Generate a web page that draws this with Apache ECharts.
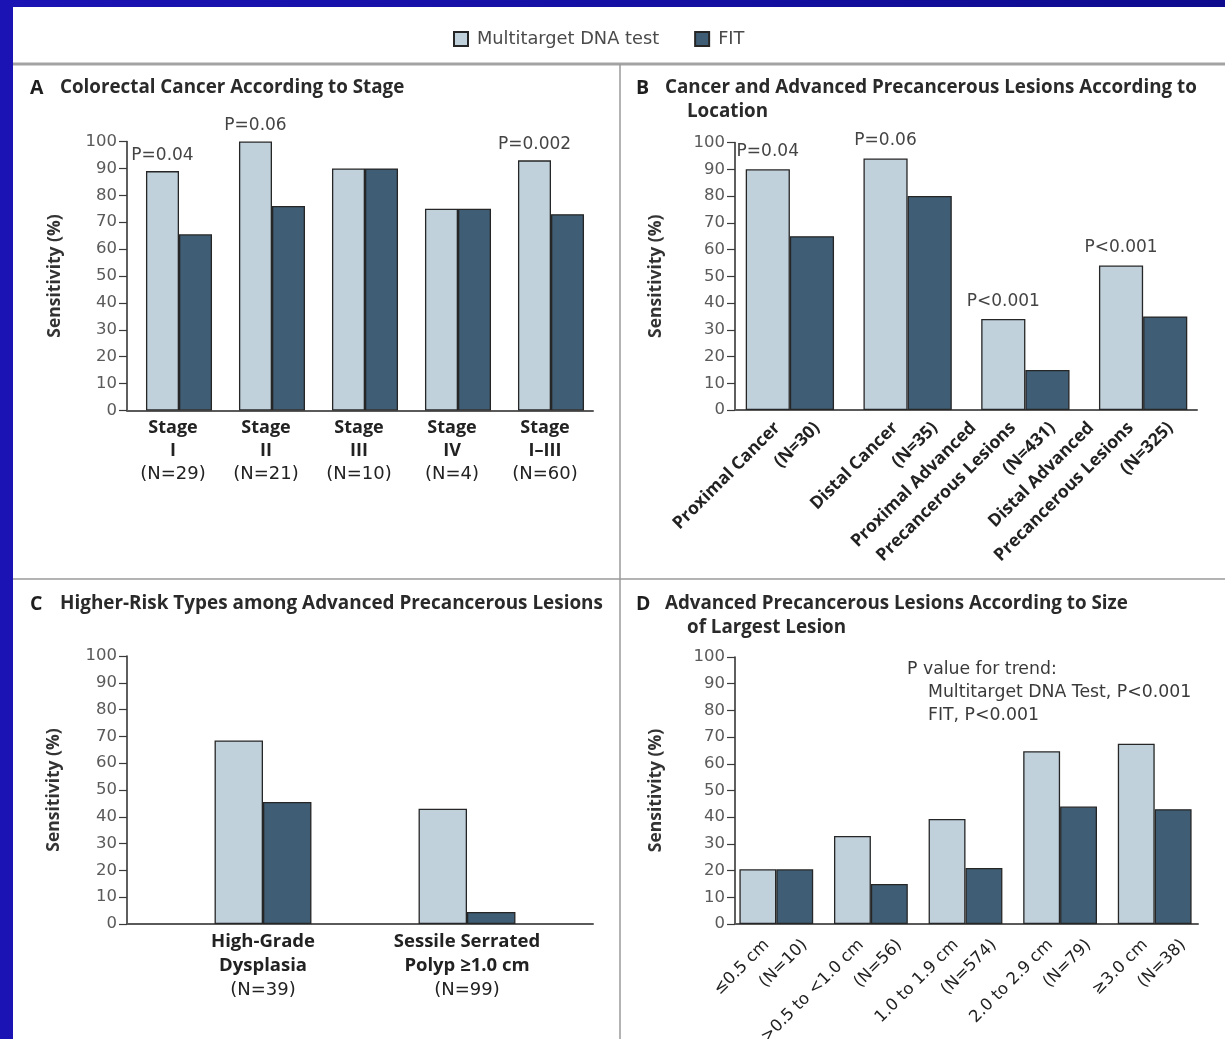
<!DOCTYPE html>
<html>
<head>
<meta charset="utf-8">
<title>Sensitivity of Multitarget DNA Test and FIT</title>
<script src="https://cdn.jsdelivr.net/npm/echarts@6/dist/echarts.min.js"></script>
<style>
  html, body { margin: 0; padding: 0; width: 1225px; height: 1039px; overflow: hidden; }
  body { background: linear-gradient(90deg, #1b13b4 0%, #1510a4 50%, #0e0b8e 100%); position: relative; }
  #sheet { position: absolute; left: 13px; top: 7px; right: 0; bottom: 0; background: #ffffff; }
  #chart { position: absolute; left: 0; top: 0; width: 1225px; height: 1039px; }
</style>
</head>
<body>
<div id="sheet"></div>
<div id="chart"></div>
<script>
// ---- data ----
const seriesNames = ['Multitarget DNA test', 'FIT'];

// A: colorectal cancer by stage
const stageCats = ['Stage\nI\n(N=29)', 'Stage\nII\n(N=21)', 'Stage\nIII\n(N=10)', 'Stage\nIV\n(N=4)', 'Stage\nI\u2013III\n(N=60)'];
const stageDna = [89, 100, 90, 75, 93];
const stageFit = [65.5, 76, 90, 75, 73];
const stageP = ['P=0.04', 'P=0.06', '', '', 'P=0.002'];

// B: cancer and advanced precancerous lesions by location
const locationCats = ['Proximal Cancer\n(N=30)', 'Distal Cancer\n(N=35)', 'Proximal Advanced\nPrecancerous Lesions\n(N=431)', 'Distal Advanced\nPrecancerous Lesions\n(N=325)'];
const locationDna = [90, 94, 34, 54];
const locationFit = [65, 80, 15, 35];
const locationP = ['P=0.04', 'P=0.06', 'P<0.001', 'P<0.001'];

// C: higher-risk lesion types
const riskCats = ['High-Grade\nDysplasia\n(N=39)', 'Sessile Serrated\nPolyp \u22651.0 cm\n(N=99)'];
const riskDna = [68.5, 43];
const riskFit = [45.5, 4.5];

// D: by size of largest lesion
const sizeCats = ['\u22640.5 cm\n(N=10)', '>0.5 to <1.0 cm\n(N=56)', '1.0 to 1.9 cm\n(N=574)', '2.0 to 2.9 cm\n(N=79)', '\u22653.0 cm\n(N=38)'];
const sizeDna = [20.5, 33, 39.3, 64.7, 67.5];
const sizeFit = [20.5, 15, 21, 44, 43];

const trendNote = ['P value for trend:', 'Multitarget DNA Test, P<0.001', 'FIT, P<0.001'];

// ---- styling ----
const BOLD = '"Open Sans", "Noto Sans", sans-serif';
const REG = '"DejaVu Sans", "Open Sans", sans-serif';
const LIGHT = '#c1d1dc';
const DARK = '#3f5e75';
const EDGE = '#262626';

const grids = [];
const xAxes = [];
const yAxes = [];
const series = [];

function gridBox(box) {
  return { left: box.left, top: box.top, width: box.width, height: box.height, containLabel: false, outerBoundsMode: 'none' };
}

// Frame: y axis with ticks and name, plus the baseline
function addFrame(box, nameGap) {
  const idx = grids.length;
  grids.push(gridBox(box));
  xAxes.push({
    gridIndex: idx, type: 'value', min: 0, max: 1,
    axisLine: { show: true, lineStyle: { color: '#5a5a5a', width: 2 } },
    axisTick: { show: false }, axisLabel: { show: false }, splitLine: { show: false }
  });
  yAxes.push({
    gridIndex: idx, type: 'value', min: 0, max: 100, interval: 10,
    axisLine: { show: true, lineStyle: { color: '#2a2a2a', width: 1.5 } },
    axisTick: { show: true, inside: false, length: 8, lineStyle: { color: '#3a3a3a', width: 1.2 } },
    axisLabel: { show: true, margin: 10, fontSize: 16.5, color: '#5a5a5a', fontFamily: REG },
    splitLine: { show: false },
    name: 'Sensitivity (%)', nameLocation: 'middle', nameGap: nameGap, nameRotate: 90,
    nameTextStyle: { fontSize: 17.5, fontWeight: 'bold', color: '#333', fontFamily: BOLD }
  });
}

// Upright multi-line category labels: name lines bold, count line regular
function uprightLabel(lh, size, nudge) {
  const pad = [0, nudge, 0, 0];
  return {
    show: true, interval: 0, margin: 6,
    formatter: function (s) {
      const lines = s.split('\n');
      return lines.map(function (l, i) { return (i === lines.length - 1 ? '{n|' : '{b|') + l + '}'; }).join('\n');
    },
    rich: {
      b: { fontSize: size, fontWeight: 'bold', color: '#222', lineHeight: lh, fontFamily: BOLD, padding: pad },
      n: { fontSize: 18, fontWeight: 'normal', color: '#222', lineHeight: lh, fontFamily: REG, padding: pad }
    }
  };
}

// Slanted multi-line category labels: each line ends one line-height further along
function slantedLabel(lh, font, size, weight, margin) {
  const rich = {};
  for (let k = 0; k < 3; k++) {
    rich['s' + k] = { fontSize: size, fontWeight: weight, color: '#222', lineHeight: lh, fontFamily: font, padding: [0, k * lh, 0, 0] };
  }
  return {
    show: true, interval: 0, rotate: 45, margin: margin, align: 'right', verticalAlign: 'bottom',
    formatter: function (s) {
      const lines = s.split('\n');
      const n = lines.length;
      return lines.map(function (l, i) { return '{s' + (n - 1 - i) + '|' + l + '}'; }).join('\n');
    },
    rich: rich
  };
}

function addCategoryGrid(box, cats, label) {
  const idx = grids.length;
  grids.push(gridBox(box));
  xAxes.push({
    gridIndex: idx, type: 'category', data: cats, boundaryGap: true,
    axisLine: { show: false }, axisTick: { show: false },
    axisLabel: label || { show: false }, splitLine: { show: false }
  });
  yAxes.push({ gridIndex: idx, type: 'value', min: 0, max: 100, show: false });
  return idx;
}

function addBars(idx, dna, fit, pvals, gap, labelDist) {
  const dnaData = dna.map(function (v, i) {
    const p = pvals && pvals[i];
    return p ? { value: v, label: { show: true, formatter: p } } : { value: v };
  });
  series.push({
    name: seriesNames[0], type: 'bar', xAxisIndex: idx, yAxisIndex: idx,
    data: dnaData, barGap: '0%', barCategoryGap: gap,
    itemStyle: { color: LIGHT, borderColor: EDGE, borderWidth: 1.3 },
    label: { show: false, position: 'top', distance: labelDist, fontSize: 17, color: '#444', fontFamily: REG },
    emphasis: { disabled: true }, z: 3
  });
  series.push({
    name: seriesNames[1], type: 'bar', xAxisIndex: idx, yAxisIndex: idx,
    data: fit, barGap: '0%', barCategoryGap: gap,
    itemStyle: { color: DARK, borderColor: EDGE, borderWidth: 1.3 },
    emphasis: { disabled: true }, z: 3
  });
}

// Panel A
addFrame({ left: 127, top: 141.5, width: 466, height: 269 }, 63);
const gA = addCategoryGrid({ left: 132.5, top: 141.5, width: 465, height: 269 }, stageCats, uprightLabel(23, 18, 12));
addBars(gA, stageDna, stageFit, stageP, '29%', 7);

// Panel B
addFrame({ left: 735, top: 142.5, width: 462, height: 267.5 }, 70);
const gB = addCategoryGrid({ left: 731, top: 142.5, width: 471, height: 267.5 }, locationCats, null);
addBars(gB, locationDna, locationFit, locationP, '25%', 9);
addCategoryGrid({ left: 768, top: 142.5, width: 471, height: 267.5 }, locationCats, slantedLabel(28, BOLD, 17.5, 'bold', 25));

// Panel C
addFrame({ left: 127, top: 656, width: 466, height: 268 }, 64);
const gC = addCategoryGrid({ left: 161, top: 656, width: 408, height: 268 }, riskCats, uprightLabel(24, 18.5, 0));
addBars(gC, riskDna, riskFit, null, '52.5%', 7);

// Panel D
addFrame({ left: 735, top: 657, width: 463, height: 267 }, 70);
const gD = addCategoryGrid({ left: 729, top: 657, width: 473, height: 267 }, sizeCats, null);
addBars(gD, sizeDna, sizeFit, null, '22%', 7);
addCategoryGrid({ left: 767, top: 657, width: 473, height: 267 }, sizeCats, slantedLabel(27, REG, 16.5, 'normal', 28));

// Panel headings, separators and the trend note
function heading(letter, lx, tx, y, lines, size) {
  const els = [{ type: 'text', x: lx, y: y, style: { text: letter, fontSize: 19.5, fontWeight: 'bold', fill: '#1e1e1e', fontFamily: BOLD, verticalAlign: 'middle' } }];
  lines.forEach(function (t, i) {
    els.push({ type: 'text', x: i === 0 ? tx : tx + 22, y: y + i * 24, style: { text: t, fontSize: size, fontWeight: 'bold', fill: '#2a2a2a', fontFamily: BOLD, verticalAlign: 'middle' } });
  });
  return els;
}

const graphics = [
  { type: 'line', shape: { x1: 13, y1: 64, x2: 1225, y2: 64 }, style: { stroke: '#a3a3a3', lineWidth: 3 } },
  { type: 'line', shape: { x1: 620, y1: 64, x2: 620, y2: 1039 }, style: { stroke: '#9a9a9a', lineWidth: 1.5 } },
  { type: 'line', shape: { x1: 13, y1: 579, x2: 1225, y2: 579 }, style: { stroke: '#9a9a9a', lineWidth: 1.5 } }
]
  .concat(heading('A', 30, 60, 88, ['Colorectal Cancer According to Stage'], 18.8))
  .concat(heading('B', 636, 665, 88, ['Cancer and Advanced Precancerous Lesions According to', 'Location'], 18.8))
  .concat(heading('C', 30, 60, 604, ['Higher-Risk Types among Advanced Precancerous Lesions'], 18.9))
  .concat(heading('D', 636, 665, 604, ['Advanced Precancerous Lesions According to Size', 'of Largest Lesion'], 18.8));

trendNote.forEach(function (t, i) {
  graphics.push({ type: 'text', x: i === 0 ? 907 : 928, y: 670 + i * 23, style: { text: t, fontSize: 17.3, fill: '#3a3a3a', fontFamily: REG, verticalAlign: 'middle' } });
});

const chart = echarts.init(document.getElementById('chart'), null, { renderer: 'canvas' });
chart.setOption({
  animation: false,
  backgroundColor: 'transparent',
  textStyle: { fontFamily: REG },
  legend: {
    data: seriesNames, left: 453, top: 30, padding: 0, icon: 'rect', itemWidth: 14, itemHeight: 14, itemGap: 35,
    selectedMode: false,
    textStyle: { fontSize: 17.8, color: '#4a4a4a', fontFamily: REG, padding: [0, 0, 0, 4] }
  },
  grid: grids,
  xAxis: xAxes,
  yAxis: yAxes,
  series: series,
  graphic: graphics
});
</script>
</body>
</html>
